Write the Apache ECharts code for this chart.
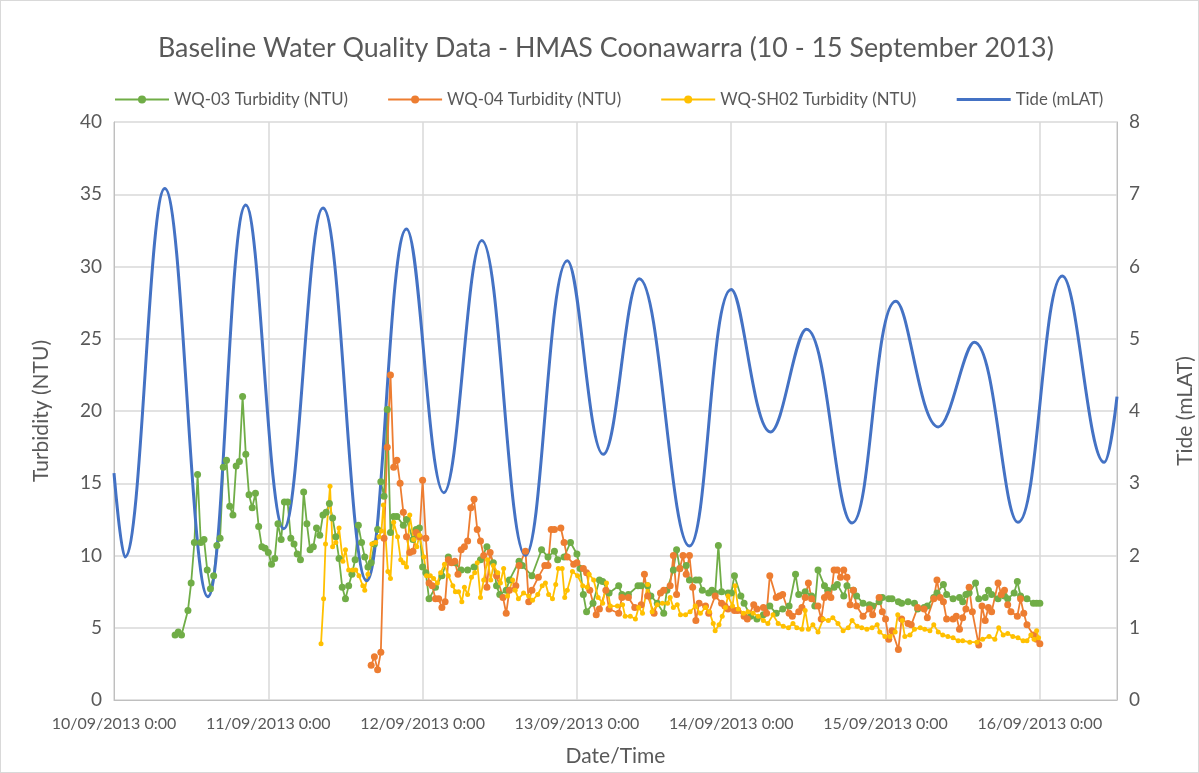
<!DOCTYPE html>
<html>
<head>
<meta charset="utf-8">
<script src="https://cdn.jsdelivr.net/npm/echarts@6/dist/echarts.min.js"></script>
<style>
  html, body { margin: 0; padding: 0; background: #fff; }
  #chart { width: 1199px; height: 773px; box-sizing: border-box; border: 1px solid #d9d9d9; }
</style>
</head>
<body>
<div id="chart"></div>
<script>
// x values are hours since 10/09/2013 0:00
var wq03 = [[9.5,4.5],[10,4.7],[10.5,4.5],[11.5,6.2],[12,8.1],[12.5,10.9],[13,15.6],[13.5,10.9],[14,11.1],[14.5,9.0],[15,7.7],[15.5,8.6],[16,10.7],[16.5,11.2],[17,16.1],[17.5,16.6],[18,13.4],[18.5,12.8],[19,16.2],[19.5,16.5],[20,21.0],[20.5,17.0],[21,14.2],[21.5,13.3],[22,14.3],[22.5,12.0],[23,10.6],[23.5,10.5],[24,10.2],[24.5,9.4],[25,9.8],[25.5,12.2],[26,11.1],[26.5,13.7],[27,13.7],[27.5,11.2],[28,10.8],[28.5,10.1],[29,9.7],[29.5,14.4],[30,12.2],[30.5,10.4],[31,10.6],[31.5,11.9],[32,11.4],[32.5,12.8],[33,13.0],[33.5,13.6],[34,12.6],[34.5,11.3],[35,9.8],[35.5,7.8],[36,7.0],[36.5,7.9],[37,8.7],[37.5,9.7],[38,12.1],[38.5,10.9],[39,9.9],[39.5,9.2],[40,9.5],[40.5,10.8],[41,11.8],[41.5,15.1],[42,14.1],[42.5,20.1],[43,11.6],[43.5,12.7],[44,12.7],[45,12.1],[45.5,12.5],[46.5,11.1],[47,11.8],[47.5,11.9],[48,9.2],[48.5,8.8],[49,7.0],[50,7.8],[51,8.6],[52,9.9],[53,9.5],[54,9.0],[55,9.0],[56,9.2],[57,9.7],[58,10.6],[59,9.5],[59.5,7.9],[60,7.3],[61,7.6],[61.5,8.3],[63,9.6],[63.5,9.3],[65,8.6],[66.5,10.4],[67.5,9.9],[68.5,10.3],[69,9.7],[70,9.9],[71,10.9],[72,10.1],[72.5,9.1],[73,7.3],[73.5,6.1],[74.5,6.7],[75.5,8.3],[76,8.2],[77,7.4],[78.5,7.9],[79,7.3],[80,7.3],[81.5,7.9],[82,7.9],[83,7.9],[83.5,7.2],[84.5,6.7],[85.5,6.0],[86,7.6],[87,9.0],[87.5,10.4],[88,9.1],[89,9.3],[89.5,8.3],[90.5,8.3],[91,8.3],[91.5,7.6],[92.5,7.4],[93,7.6],[93.5,7.4],[94,10.7],[94.5,7.5],[95.5,7.4],[96,7.4],[96.5,8.6],[97.5,7.2],[98,6.7],[99,5.8],[100,5.6],[101,5.9],[102,6.5],[103,6.0],[104,6.3],[105,6.5],[106,8.7],[106.5,7.3],[107.5,7.5],[108.5,7.2],[109,6.5],[109.5,9.0],[110.5,7.9],[111,7.6],[112,7.8],[112.5,8.0],[113.5,7.2],[114,7.9],[115,7.6],[115.5,7.2],[116.5,6.7],[117.5,6.6],[118,6.5],[119,6.8],[119.5,7.1],[120.5,7.0],[121,7.0],[122,6.8],[122.5,6.7],[123.5,6.8],[124.5,6.7],[125,6.3],[126,6.4],[126.5,6.5],[127.5,7.1],[128,7.4],[129,8.0],[129.5,7.3],[130.5,7.0],[131.5,7.1],[132,6.8],[132.5,7.3],[133,7.4],[134,8.1],[134.5,7.0],[135.5,7.1],[136,7.6],[136.5,7.3],[137.5,7.0],[138.5,7.2],[139,7.0],[140,7.4],[140.5,8.2],[141,7.2],[142,7.0],[143,6.7],[143.5,6.7],[144,6.7]];

var wq04 = [[40,2.4],[40.5,3.0],[41,2.1],[41.5,3.3],[42,11.2],[42.5,17.5],[43,22.5],[43.5,16.1],[44,16.6],[44.5,15.0],[45,13.0],[45.5,11.3],[46,10.2],[46.5,10.3],[47,11.6],[47.5,11.3],[48,15.2],[48.5,11.2],[49,8.1],[49.5,7.9],[50,7.0],[50.5,7.0],[51,6.4],[51.5,6.8],[52,9.7],[52.5,9.5],[53,9.6],[53.5,8.7],[54,10.4],[54.5,10.6],[55,11.0],[55.5,13.3],[56,13.9],[56.5,11.8],[57,11.0],[57.5,10.0],[58,7.8],[58.5,10.2],[59.5,8.6],[60.5,7.1],[61,6.0],[61.5,7.6],[62.5,7.9],[63,9.3],[64,10.3],[64.5,6.8],[65,7.6],[66,8.5],[67,9.3],[67.5,9.3],[68,11.8],[68.5,11.8],[69.5,11.9],[70,10.9],[70.5,9.9],[71.5,9.4],[72,9.5],[73,9.1],[73.5,8.8],[74,7.6],[75,5.9],[75.5,6.3],[76.5,7.6],[77,6.3],[78.5,6.0],[79,7.1],[80,7.1],[81,6.4],[82,6.6],[82.5,8.7],[83,7.2],[84,6.0],[85,7.4],[85.5,7.6],[86.5,7.9],[87,10.0],[87.5,7.3],[88,9.1],[88.5,10.0],[89,8.7],[89.5,10.0],[90,7.8],[90.5,5.5],[91,6.7],[92,6.5],[92.5,6.0],[93.5,7.2],[94.5,6.7],[95,6.5],[95.5,6.3],[96.5,6.2],[97,6.2],[98,5.8],[98.5,5.6],[99.5,6.6],[100,6.3],[101,6.4],[101.5,6.0],[102,8.6],[103,7.1],[103.5,7.2],[104,7.3],[105,6.0],[105.5,5.8],[106.5,6.1],[107,6.4],[107.5,7.1],[108,8.1],[108.5,7.0],[109.5,6.5],[110,5.6],[110.5,7.1],[111,7.3],[111.5,7.1],[112,9.0],[112.5,9.0],[113,8.5],[113.5,9.0],[114,8.5],[114.5,6.6],[115,7.6],[115.5,6.5],[116.5,5.8],[117.5,6.3],[118,5.9],[119,7.1],[119.5,6.1],[120,5.6],[120.5,4.2],[121,4.8],[122,3.5],[122.5,5.6],[123.5,5.3],[124,5.2],[125,6.4],[126,6.3],[126.5,5.7],[127.5,7.0],[128,8.3],[128.5,7.1],[129,6.8],[129.5,5.6],[130.5,5.6],[131,5.8],[131.5,4.9],[132,5.7],[132.5,6.3],[133,7.8],[133.5,6.1],[134.5,3.8],[135,6.5],[135.5,5.5],[136,6.4],[136.5,6.1],[137.5,8.1],[138,7.3],[138.5,7.6],[139,6.6],[139.5,6.1],[140.5,5.8],[141,7.0],[141.5,6.0],[142,5.2],[143,4.5],[143.5,4.2],[144,3.9]];

var sh02 = [[32.2,3.9],[32.6,7.0],[32.9,10.8],[33.6,14.8],[34.0,10.6],[34.5,10.9],[35.0,11.9],[35.6,9.6],[36.0,10.4],[36.5,9.0],[37.1,9.0],[37.6,9.0],[38.1,8.6],[38.7,7.9],[39.0,7.6],[39.5,8.7],[40.1,10.8],[40.7,10.9],[41.2,11.3],[41.6,11.7],[41.9,13.5],[42.6,8.9],[43.0,8.4],[43.5,12.3],[44.1,11.3],[44.6,9.7],[45.0,9.5],[45.5,9.2],[46.0,12.8],[46.6,11.1],[47.1,10.6],[47.5,11.4],[48.2,9.9],[48.6,8.6],[49.2,8.6],[49.7,8.4],[50.3,8.1],[50.8,8.8],[51.4,9.4],[52.0,8.6],[52.7,7.9],[53.1,7.5],[53.6,7.5],[54.1,6.8],[54.5,7.8],[55.0,7.3],[55.6,8.5],[56.1,8.8],[56.5,9.5],[57.0,7.1],[57.5,8.3],[58.1,9.7],[58.6,8.3],[59.0,9.3],[59.7,8.8],[60.1,8.1],[60.6,9.1],[61.2,7.2],[62.0,8.3],[62.4,7.6],[62.9,7.0],[63.7,7.4],[64.5,7.2],[65.1,6.9],[65.9,7.3],[66.6,7.9],[67.1,8.1],[67.6,7.3],[68.2,7.0],[68.7,8.0],[69.1,9.1],[69.7,9.1],[70.1,7.1],[70.5,7.6],[71.3,8.9],[72.1,8.6],[72.9,7.9],[73.6,7.8],[73.9,8.7],[74.6,8.3],[75.3,7.1],[76.0,6.7],[76.6,8.1],[77.2,6.5],[78.3,6.5],[79.1,6.6],[79.5,5.8],[80.3,5.8],[81.1,5.6],[81.6,6.4],[82.2,6.0],[83.0,8.0],[83.7,6.1],[84.5,6.6],[85.3,6.7],[86.1,6.7],[86.5,7.1],[87.0,6.4],[87.6,6.6],[88.1,5.9],[88.9,5.9],[89.6,6.1],[90.4,6.5],[91.2,6.0],[92.0,6.4],[92.6,6.1],[93.2,5.3],[93.5,4.8],[94.1,5.2],[94.6,5.8],[95.1,6.4],[95.5,7.2],[96.2,6.5],[96.6,7.9],[97.1,6.3],[97.9,6.0],[98.6,6.1],[99.4,6.0],[100.2,5.8],[101.0,5.5],[101.7,5.3],[102.5,5.9],[103.3,5.3],[104.1,5.1],[104.9,5.0],[105.6,5.3],[106.2,5.0],[107.0,4.9],[107.5,6.2],[108.0,4.9],[108.7,5.2],[109.5,4.7],[110.3,5.6],[111.1,5.5],[111.8,5.7],[112.6,5.3],[113.4,4.8],[114.2,5.0],[114.8,5.5],[115.6,5.1],[116.3,5.0],[117.1,4.9],[117.9,5.0],[118.7,5.2],[119.1,4.7],[119.9,4.4],[120.7,4.4],[121.5,4.7],[121.9,5.9],[122.6,5.5],[123.0,4.4],[123.8,4.5],[124.5,4.9],[125.4,5.0],[126.1,4.9],[126.9,4.8],[127.5,5.2],[128.2,4.7],[128.9,4.5],[129.7,4.4],[130.5,4.3],[131.3,4.1],[132.0,4.1],[133.1,4.0],[134.2,4.0],[135.1,4.2],[136.1,4.4],[137.0,4.2],[137.6,5.0],[138.3,4.5],[139.0,4.6],[139.8,4.4],[140.6,4.3],[141.4,4.1],[142.0,4.1],[142.6,4.5],[143.1,4.2],[143.5,4.8],[143.8,4.3]];

// tide highs and lows (mLAT)
var tideHours = [0, 1.7, 7.9, 14.6, 20.5, 26.4, 32.5, 39.3, 45.5, 51.3, 57.2, 64.0, 70.5, 76.1, 81.7, 89.5, 96.0, 102.1, 107.7, 114.8, 121.6, 128.2, 133.8, 140.6, 147.5, 154.0, 156];
var tideValues = [3.14, 1.98, 7.08, 1.43, 6.85, 2.37, 6.81, 1.65, 6.52, 2.87, 6.36, 2.0, 6.08, 3.40, 5.83, 2.13, 5.68, 3.71, 5.13, 2.45, 5.52, 3.78, 4.95, 2.46, 5.87, 3.29, 4.2];

var seriesNames = ['WQ-03 Turbidity (NTU)', 'WQ-04 Turbidity (NTU)', 'WQ-SH02 Turbidity (NTU)', 'Tide (mLAT)'];
var colors = ['#70AD47', '#ED7D31', '#FFC000', '#4472C4'];

var tide = tideHours.map(function (h, i) { return [h, tideValues[i]]; });

function dayLabel(v) {
    if (v % 24 !== 0) return '';
    var d = 10 + v / 24;
    return (d < 10 ? '0' + d : d) + '/09/2013 0:00';
}

var txt = '#595959';
var font = 'Lato, "Open Sans", sans-serif';

var myChart = echarts.init(document.getElementById('chart'));
var option = {
    animation: false,
    color: colors,
    textStyle: { fontFamily: font, color: txt },
    title: {
        text: 'Baseline Water Quality Data - HMAS Coonawarra (10 - 15 September 2013)',
        left: 152,
        top: 29,
        textStyle: { fontFamily: font, fontSize: 26.8, fontWeight: 'normal', color: txt }
    },
    legend: {
        left: 113,
        top: 90,
        padding: 0,
        itemWidth: 54,
        itemHeight: 10,
        itemGap: 39,
        textStyle: { fontFamily: font, fontSize: 16.8, color: txt },
        data: [
            { name: seriesNames[0] },
            { name: seriesNames[1] },
            { name: seriesNames[2] },
            { name: seriesNames[3], itemStyle: { opacity: 0 }, lineStyle: { width: 3 } }
        ]
    },
    grid: { left: 113, right: 81, top: 121, bottom: 72, containLabel: false, outerBoundsMode: 'none' },
    xAxis: {
        type: 'value',
        min: 0,
        max: 156,
        interval: 24,
        name: 'Date/Time',
        nameLocation: 'middle',
        nameGap: 46,
        nameTextStyle: { fontFamily: font, fontSize: 21, color: txt },
        axisLine: { lineStyle: { color: '#bfbfbf', width: 1 } },
        axisTick: { show: false },
        axisLabel: { formatter: dayLabel, fontFamily: font, fontSize: 16, color: txt, margin: 16, showMaxLabel: false },
        splitLine: { show: true, lineStyle: { color: '#d9d9d9', width: 1.5 } }
    },
    yAxis: [
        {
            type: 'value',
            min: 0,
            max: 40,
            interval: 5,
            name: 'Turbidity (NTU)',
            nameLocation: 'middle',
            nameGap: 62,
            nameTextStyle: { fontFamily: font, fontSize: 21, color: txt },
            axisLine: { show: true, lineStyle: { color: '#bfbfbf', width: 1 } },
            axisTick: { show: false },
            axisLabel: { fontFamily: font, fontSize: 19, color: txt, margin: 12 },
            splitLine: { show: true, lineStyle: { color: '#d9d9d9', width: 1.5 } }
        },
        {
            type: 'value',
            min: 0,
            max: 8,
            interval: 1,
            name: 'Tide (mLAT)',
            nameLocation: 'middle',
            nameGap: 58,
            nameTextStyle: { fontFamily: font, fontSize: 21, color: txt },
            axisLine: { show: true, lineStyle: { color: '#bfbfbf', width: 1 } },
            axisTick: { show: false },
            axisLabel: { fontFamily: font, fontSize: 19, color: txt, margin: 12 },
            splitLine: { show: false }
        }
    ],
    series: [
        {
            name: seriesNames[0],
            type: 'line',
            yAxisIndex: 0,
            data: wq03,
            symbol: 'circle',
            symbolSize: 7,
            lineStyle: { width: 1.8 },
            itemStyle: { color: colors[0] }
        },
        {
            name: seriesNames[1],
            type: 'line',
            yAxisIndex: 0,
            data: wq04,
            symbol: 'circle',
            symbolSize: 7,
            lineStyle: { width: 1.8 },
            itemStyle: { color: colors[1] }
        },
        {
            name: seriesNames[2],
            type: 'line',
            yAxisIndex: 0,
            data: sh02,
            symbol: 'circle',
            symbolSize: 5,
            lineStyle: { width: 1.8 },
            itemStyle: { color: colors[2] }
        },
        {
            name: seriesNames[3],
            type: 'line',
            yAxisIndex: 1,
            data: tide,
            smooth: 0.4,
            showSymbol: false,
            symbol: 'none',
            lineStyle: { width: 3 },
            itemStyle: { color: colors[3] }
        }
    ]
};
myChart.setOption(option);
window.addEventListener('resize', function () {
    myChart.resize();
});
</script>
</body>
</html>
